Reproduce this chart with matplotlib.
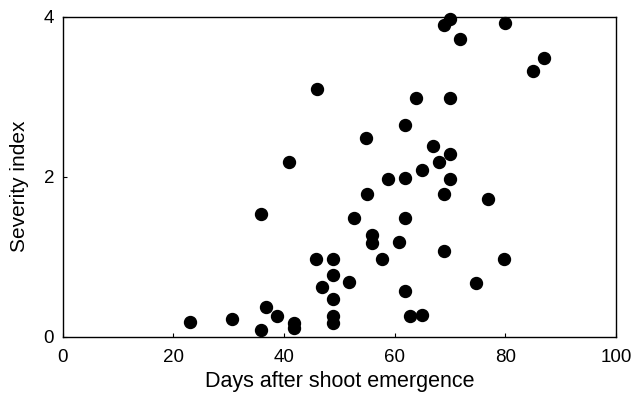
import matplotlib.pyplot as plt

plt.rcParams['font.family'] = ['Liberation Sans', 'DejaVu Sans']

# 出苗后天数与严重度指数
days = [23.0, 30.7, 35.8, 36.7, 38.8, 41.8, 41.8, 35.8, 45.8, 46.8,
        55.0, 68.9, 76.9, 52.7, 61.9, 55.9, 55.9, 60.8, 68.9, 48.9,
        57.8, 79.8, 48.9, 51.7, 74.7, 61.8, 48.9, 62.8, 65.0, 48.9,
        48.9, 70.0, 69.0, 79.9, 71.8, 87.0, 85.0, 46.0, 63.9, 70.0,
        61.9, 54.8, 67.0, 70.0, 68.0, 65.0, 58.8, 61.9, 70.0, 41.0]
severity = [0.19, 0.23, 0.09, 0.38, 0.26, 0.17, 0.11, 1.54, 0.97, 0.63,
            1.79, 1.78, 1.72, 1.48, 1.48, 1.27, 1.17, 1.18, 1.07, 0.97,
            0.97, 0.97, 0.77, 0.69, 0.68, 0.57, 0.48, 0.26, 0.28, 0.26,
            0.17, 3.97, 3.90, 3.92, 3.72, 3.48, 3.32, 3.09, 2.98, 2.98,
            2.64, 2.48, 2.39, 2.28, 2.19, 2.08, 1.97, 1.99, 1.97, 2.19]

fig = plt.figure(figsize=(6.34, 3.94), dpi=100)
ax = fig.add_axes([0.0986, 0.1447, 0.873, 0.8133])

ax.plot(days, severity, 'o', color='black', markersize=8.6, clip_on=False)

ax.set_xlim(0, 100)
ax.set_ylim(0, 4)
ax.set_xticks([0, 20, 40, 60, 80, 100])
ax.set_yticks([0, 2, 4])
ax.tick_params(direction='in', length=3, width=0.8, labelsize=13.5,
               top=False, right=False)
ax.tick_params(axis='x', pad=9)
ax.tick_params(axis='y', pad=6)
for s in ax.spines.values():
    s.set_linewidth(1.0)

ax.set_xlabel('Days after shoot emergence', fontsize=15.5, va='bottom')
ax.set_ylabel('Severity index', fontsize=15)
ax.xaxis.set_label_coords(0.5, -0.172)
ax.yaxis.set_label_coords(-0.06, 0.47)

plt.savefig('out.png', dpi=100)
